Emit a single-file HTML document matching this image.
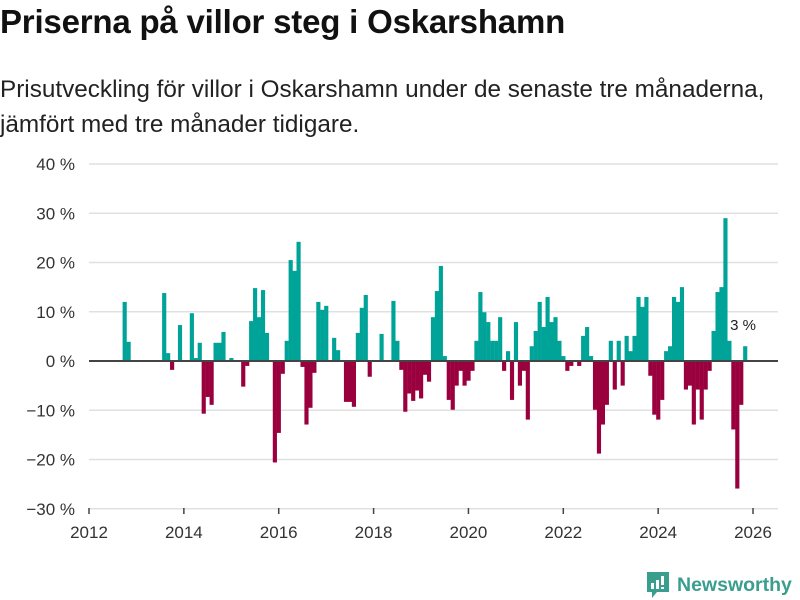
<!DOCTYPE html>
<html><head><meta charset="utf-8">
<style>
body{margin:0;background:#fff;width:800px;height:600px;overflow:hidden;font-family:"Liberation Sans",sans-serif;color:#111}
h1{position:absolute;left:0;top:3px;margin:0;font-size:33px;font-weight:bold;letter-spacing:-0.2px}
.sub{position:absolute;left:0;top:72px;margin:0;font-size:24.3px;line-height:35px;color:#222}
svg{position:absolute;left:0;top:0}
</style></head><body>
<h1>Priserna på villor steg i Oskarshamn</h1>
<p class="sub">Prisutveckling för villor i Oskarshamn under de senaste tre månaderna,<br>jämfört med tre månader tidigare.</p>
<svg id="chart" width="800" height="600"></svg>
<script>
const startMonth = 9; // Oct 2012 (months since Jan 2012)
const values = [12.0,3.9,null,null,null,null,null,null,null,null,13.8,1.6,-1.8,null,7.3,null,null,9.7,0.6,3.7,
-10.7,-7.3,-8.9,3.7,3.7,5.9,null,0.6,null,null,-5.2,-1.0,8.1,14.8,8.9,14.4,5.7,null,-20.6,-14.6,
-2.6,4.1,20.5,18.3,24.2,-1.2,-12.9,-9.5,-2.4,12.0,10.4,11.2,null,4.7,2.2,null,-8.3,-8.3,-9.3,5.7,
10.8,13.4,-3.2,null,null,5.5,null,null,12.2,4.1,-1.8,-10.3,-6.6,-8.1,-6.0,-7.6,-2.8,-4.2,8.9,14.2,
19.3,1.0,-7.9,-9.9,-5.0,-2.0,-5.0,-4.0,-2.0,4.1,14.0,9.9,7.9,4.1,4.1,8.9,-2.0,2.0,-7.9,7.9,
-5.0,-2.0,-11.9,3.0,6.1,12.0,6.9,13.0,7.9,8.9,4.1,1.0,-2.0,-1.0,null,-1.0,5.1,6.9,1.0,-9.9,
-18.8,-12.9,-8.9,4.1,-5.8,4.1,-5.0,5.1,2.0,5.1,13.0,11.0,13.0,-3.0,-10.9,-11.9,-7.9,2.0,3.0,13.0,
12.0,15.0,-5.8,-5.0,-12.9,-5.8,-11.9,-5.8,-2.0,6.1,14.0,15.0,29.0,4.1,-13.9,-25.9,-8.9,3.0];
const yTicks = [40,30,20,10,0,-10,-20,-30];
const xTickYears = [2012,2014,2016,2018,2020,2022,2024,2026];
const lastLabel = "3 %";

const NS="http://www.w3.org/2000/svg";
const svg=document.getElementById('chart');
const x0=89, pxPerYear=47.43, y0=361, pxPerPct=4.925, plotRight=778;
function xScale(monthsSince2012){return x0+monthsSince2012/12*pxPerYear;}
function yScale(v){return y0-v*pxPerPct;}
function mk(tag,attrs){const e=document.createElementNS(NS,tag);for(const k in attrs)e.setAttribute(k,attrs[k]);svg.appendChild(e);return e;}

yTicks.forEach(t=>{
  if(t!==0){
    const g=mk('line',{x1:x0,x2:plotRight,y1:yScale(t),y2:yScale(t),stroke:'#e0e0e0','stroke-width':1.5});
    
    
  }
  const l=mk('text',{x:75,y:yScale(t)+6,'text-anchor':'end','font-size':17,fill:'#333','font-family':'Liberation Sans, sans-serif'});
  l.textContent=(t<0?'\u2212'+(-t):t)+' %';
  
  
});
xTickYears.forEach(yr=>{
  const x=xScale((yr-2012)*12);
  const t=mk('line',{x1:x,x2:x,y1:508,y2:514,stroke:'#444','stroke-width':1.5});
  
  
  const l=mk('text',{x:x,y:538,'text-anchor':'middle','font-size':17,fill:'#333','font-family':'Liberation Sans, sans-serif'});
  l.textContent=yr;
  
  
});
const bw=pxPerYear/12;
let lastIdx=-1;
values.forEach((v,i)=>{
  if(v===null)return;
  lastIdx=i;
  const cx=xScale(startMonth+i);
  const top=v>=0?yScale(v):y0, h=Math.abs(yScale(v)-y0);
  const r=mk('rect',{x:cx-bw/2,y:top,width:bw+0.2,height:h,fill:v>=0?'#00a398':'#99003d'});
  
  
});
const zl=mk('line',{x1:x0,x2:plotRight,y1:y0,y2:y0,stroke:'#444','stroke-width':2});


const ll=mk('text',{x:xScale(startMonth+lastIdx)-15,y:330,'font-size':15,fill:'#222','font-family':'Liberation Sans, sans-serif'});
ll.textContent=lastLabel;


</script>
<div style="position:absolute;left:645px;top:570px;display:flex;align-items:center">
  <svg width="26" height="30" viewBox="0 0 26 30" style="position:static">
    <path d="M2 2h22v20H12l-5 6v-6H2z" fill="#3a9e8f"/>
    <rect x="6" y="13" width="3" height="6" fill="#fff"/><rect x="11" y="10" width="3" height="9" fill="#fff"/><rect x="16" y="6" width="3" height="9" fill="#fff"/><rect x="16" y="17" width="3" height="2" fill="#fff"/>
  </svg>
  <span style="margin-left:6px;font-size:19.5px;color:#3a9e8f;font-weight:bold">Newsworthy</span>
</div>
</body></html>
